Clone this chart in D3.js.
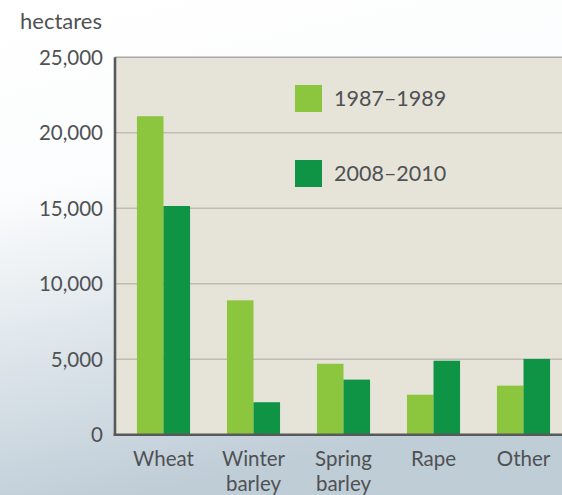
<!DOCTYPE html>
<html><head><meta charset="utf-8">
<script src="https://cdn.jsdelivr.net/npm/d3@7"></script>
<style>html,body{margin:0;padding:0;overflow:hidden;}svg{display:block;}</style>
</head><body>
<script>
const categories = [["Wheat"], ["Winter", "barley"], ["Spring", "barley"], ["Rape"], ["Other"]];
const seriesNames = ["1987–1989", "2008–2010"];
const values1987 = [21100, 8900, 4700, 2650, 3250];
const values2008 = [15150, 2150, 3650, 4900, 5020];
const yTicks = [0, 5000, 10000, 15000, 20000, 25000];
const yLabel = "hectares";

(function() {
const W = 562, H = 495;
const colors = ["#8cc63f", "#0e9444"];
const textCol = "#505153";
const font = "Lato, 'Open Sans', sans-serif";

const svg = d3.select("body").append("svg").attr("width", W).attr("height", H);
const defs = svg.append("defs");
const g1 = defs.append("linearGradient").attr("id", "bg").attr("x1", 0).attr("y1", 0).attr("x2", 0.25).attr("y2", 1);
g1.append("stop").attr("offset", "0%").attr("stop-color", "#ffffff");
g1.append("stop").attr("offset", "38%").attr("stop-color", "#fbfcfd");
g1.append("stop").attr("offset", "70%").attr("stop-color", "#dce4ea");
g1.append("stop").attr("offset", "100%").attr("stop-color", "#bfcdd7");
svg.append("rect").attr("width", W).attr("height", H).attr("fill", "url(#bg)");

const pLeft = 115, pTop = 57.3, pBottom = 434.7, pRight = W;
const y = d3.scaleLinear().domain([0, 25000]).range([pBottom, pTop]);
const x = d3.scaleBand().domain(d3.range(categories.length)).range([118.5, 568.5]).paddingInner(0.41).paddingOuter(0.205);
const xs = d3.scaleBand().domain([0, 1]).range([0, x.bandwidth()]);

svg.append("rect").attr("x", pLeft).attr("y", pTop).attr("width", pRight - pLeft).attr("height", pBottom - pTop).attr("fill", "#e6e4d9");

svg.append("g").selectAll("line").data(yTicks.filter(d => d > 0)).join("line")
  .attr("x1", pLeft).attr("x2", pRight).attr("y1", d => y(d)).attr("y2", d => y(d))
  .attr("stroke", d => d === 25000 ? "#a9a8a3" : "#bebcb5").attr("stroke-width", 1.5);

const series = [values1987, values2008];
series.forEach((vals, si) => {
  svg.append("g").selectAll("rect").data(vals).join("rect")
    .attr("x", (d, i) => x(i) + xs(si))
    .attr("width", xs.bandwidth())
    .attr("y", d => y(d))
    .attr("height", d => pBottom - y(d))
    .attr("fill", colors[si]);
});

const yAxis = d3.axisLeft(y).tickValues(yTicks).tickSize(0).tickPadding(12).tickFormat(d3.format(","));
const ya = svg.append("g").attr("transform", `translate(${pLeft},0)`).call(yAxis);
ya.select(".domain").remove();
ya.selectAll("text").attr("font-family", font).attr("font-size", 20.5).attr("fill", textCol).attr("dy", "0.35em");

svg.append("line").attr("x1", pLeft).attr("x2", pLeft).attr("y1", pTop).attr("y2", pBottom + 1.2).attr("stroke", "#58595b").attr("stroke-width", 2.6);
svg.append("line").attr("x1", pLeft - 1.3).attr("x2", pRight).attr("y1", pBottom).attr("y2", pBottom).attr("stroke", "#58595b").attr("stroke-width", 2.6);

const xg = svg.append("g");
categories.forEach((lines, i) => {
  lines.forEach((t, li) => {
    xg.append("text")
      .attr("x", x(i) + x.bandwidth() / 2)
      .attr("y", 466 + li * 24.7)
      .attr("text-anchor", "middle")
      .attr("font-family", font).attr("font-size", 20.5).attr("fill", textCol)
      .text(t);
  });
});

svg.append("text").attr("x", 20).attr("y", 29).attr("font-family", font).attr("font-size", 22).attr("fill", textCol).text(yLabel);

const leg = svg.append("g").selectAll("g").data(seriesNames).join("g")
  .attr("transform", (d, i) => `translate(295,${85 + i * 75})`);
leg.append("rect").attr("width", 27).attr("height", 27).attr("fill", (d, i) => colors[i]);
leg.append("text").attr("x", 39).attr("y", 13.5).attr("dy", "0.35em")
  .attr("font-family", font).attr("font-size", 21.5).attr("fill", textCol).text(d => d);
})();
</script>
</body></html>
